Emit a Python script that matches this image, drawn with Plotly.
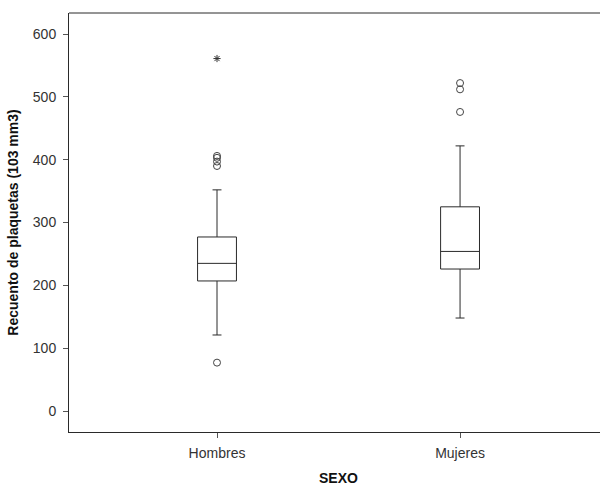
import plotly.graph_objects as go

categories = ["Hombres", "Mujeres"]
q1 = [207, 226]
median = [235, 254]
q3 = [277, 325]
lower_whisker = [121, 148]
upper_whisker = [352, 422]
outliers_hombres = [77, 390, 397, 403, 406]
extremes_hombres = [561]
outliers_mujeres = [476, 512, 522]
y_ticks = [0, 100, 200, 300, 400, 500, 600]

FONT = "Liberation Sans, Arial, sans-serif"
LINE = "#2a2a2a"

fig = go.Figure()
for i, cat in enumerate(categories):
    fig.add_trace(go.Box(
        x=[i], q1=[q1[i]], median=[median[i]], q3=[q3[i]],
        lowerfence=[lower_whisker[i]], upperfence=[upper_whisker[i]],
        width=0.16, whiskerwidth=0.23, boxpoints=False,
        fillcolor="white", line=dict(color=LINE, width=1),
        showlegend=False, name=cat,
    ))

fig.add_trace(go.Scatter(
    x=[0] * len(outliers_hombres), y=outliers_hombres, mode="markers",
    marker=dict(symbol="circle-open", size=7, color="#444", line=dict(width=1)),
    showlegend=False))
fig.add_trace(go.Scatter(
    x=[1] * len(outliers_mujeres), y=outliers_mujeres, mode="markers",
    marker=dict(symbol="circle-open", size=7, color="#444", line=dict(width=1)),
    showlegend=False))
fig.add_trace(go.Scatter(
    x=[0] * len(extremes_hombres), y=extremes_hombres, mode="markers",
    marker=dict(symbol="asterisk-open", size=6, color="#333", line=dict(width=1, color="#333")),
    showlegend=False))

fig.update_layout(
    width=610, height=486,
    margin=dict(l=69, r=0, t=13, b=54, autoexpand=False),
    paper_bgcolor="white", plot_bgcolor="white",
    font=dict(family=FONT, size=14, color="#333"),
    xaxis=dict(
        range=[-0.609, 1.617], tickvals=[0, 1], ticktext=categories,
        showgrid=False, zeroline=False, showline=True, linecolor=LINE, linewidth=1,
        ticks="outside", ticklen=5, tickcolor="#555", ticklabelstandoff=3,
        tickfont=dict(family=FONT, size=14, color="#333"),
    ),
    yaxis=dict(
        range=[-33.4, 633.5], tickvals=y_ticks,
        showgrid=False, zeroline=False, showline=True, linecolor=LINE, linewidth=1,
        ticks="outside", ticklen=5, tickcolor="#555", ticklabelstandoff=4,
        tickfont=dict(family=FONT, size=14, color="#333"),
        title=dict(text="<b>Recuento de plaquetas (103 mm3)</b>",
                   font=dict(family=FONT, size=14, color="#111"), standoff=10),
    ),
    shapes=[dict(type="line", xref="paper", yref="paper", x0=0, x1=1, y0=1, y1=1,
                 line=dict(color=LINE, width=1))],
    annotations=[dict(text="<b>SEXO</b>", xref="paper", yref="paper",
                      x=(338 - 69) / 541, y=-0.11, xanchor="center", yanchor="middle",
                      showarrow=False, font=dict(family=FONT, size=14, color="#111"))],
)

fig.write_html(
    "out.html",
    config={"displayModeBar": False},
    post_script="document.body.style.margin='0px';document.body.style.overflow='hidden';",
)
